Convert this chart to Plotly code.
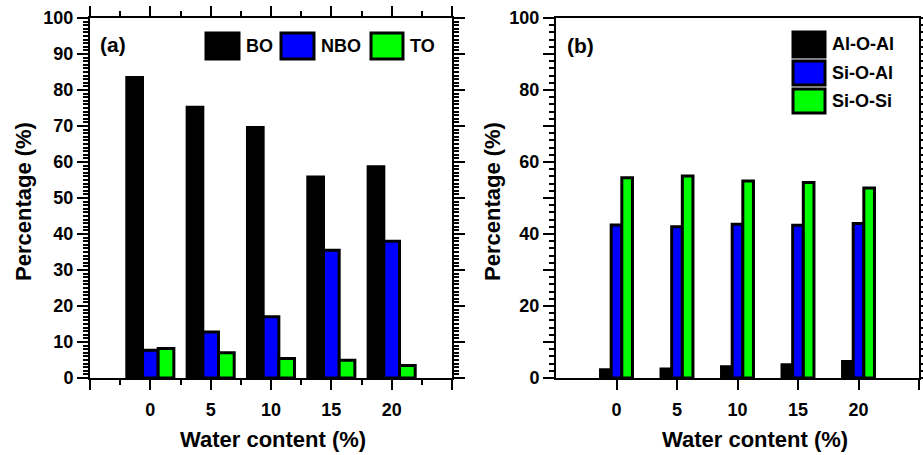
import plotly.graph_objects as go

# ---------------- data ----------------
water = [0, 5, 10, 15, 20]

names_a = ["BO", "NBO", "TO"]
bo = [83.5, 75.2, 69.6, 55.8, 58.7]
nbo = [7.7, 12.8, 17.0, 35.5, 38.0]
to = [8.2, 7.0, 5.4, 4.9, 3.5]

names_b = ["Al-O-Al", "Si-O-Al", "Si-O-Si"]
aloal = [2.3, 2.5, 3.1, 3.7, 4.6]
sioal = [42.5, 42.0, 42.7, 42.4, 42.9]
siosi = [55.6, 56.1, 54.7, 54.3, 52.8]

colors = ["#000000", "#0000FF", "#00FF00"]

xtick_vals_a = [-5, 0, 5, 10, 15, 20, 25]
xtick_text_a = ["", "0", "5", "10", "15", "20", ""]
xtick_vals_b = [0, 5, 10, 15, 20, 25]
xtick_text_b = ["0", "5", "10", "15", "20", ""]
ytick_vals_a = list(range(0, 101, 10))
ytick_vals_b = list(range(0, 101, 10))
ytick_text_b = [str(v) if v % 20 == 0 else "" for v in ytick_vals_b]

# ---------------- layout helpers ----------------
W, H = 923, 455
def px(x):
    return x / W
def py(y):
    return 1 - y / H

FONT = "Liberation Sans, Arial, sans-serif"

fig = go.Figure()

offs_a = [-1.95, -0.65, 0.65]
wid_a = 1.3
for name, vals, col, off in zip(names_a, [bo, nbo, to], colors, offs_a):
    fig.add_trace(go.Bar(x=water, y=vals, name=name, width=wid_a, offset=off,
                         marker=dict(color=col, line=dict(color="black", width=3)),
                         xaxis="x", yaxis="y", showlegend=False))

offs_b = [-1.32, -0.44, 0.44]
wid_b = 0.88
for name, vals, col, off in zip(names_b, [aloal, sioal, siosi], colors, offs_b):
    fig.add_trace(go.Bar(x=water, y=vals, name=name, width=wid_b, offset=off,
                         marker=dict(color=col, line=dict(color="black", width=3)),
                         xaxis="x2", yaxis="y2", showlegend=False))

tickfont = dict(family=FONT, size=18, color="black", weight="bold")

common = dict(showline=True, linecolor="black", linewidth=2, showgrid=False,
              zeroline=False, ticks="outside", tickcolor="black", tickwidth=2,
              tickfont=tickfont, fixedrange=True, automargin=False)

ydom = [py(378), py(18)]

fig.update_layout(
    template="none",
    width=W, height=H,
    margin=dict(l=0, r=0, t=0, b=0, autoexpand=False),
    paper_bgcolor="white", plot_bgcolor="white",
    barmode="overlay",
    xaxis=dict(domain=[px(90), px(452)], range=[-5, 25], anchor="y",
               tickmode="array", tickvals=xtick_vals_a, ticktext=xtick_text_a,
               ticklen=10, mirror="ticks", ticklabelstandoff=4,
               minor=dict(tickmode="array", tickvals=[-2.5, 2.5, 7.5, 12.5, 17.5, 22.5],
                          ticks="outside", ticklen=5, tickwidth=2, tickcolor="black"),
               **common),
    yaxis=dict(domain=ydom, range=[0, 100], anchor="x",
               tickmode="array", tickvals=ytick_vals_a, ticklen=11, mirror="ticks",
               minor=dict(dtick=1, ticks="outside", ticklen=5, tickwidth=1.5, tickcolor="black"),
               **common),
    xaxis2=dict(domain=[px(556), px(919)], range=[-5, 25], anchor="y2",
                tickmode="array", tickvals=xtick_vals_b, ticktext=xtick_text_b,
                ticklen=10, mirror=True, ticklabelstandoff=4, **common),
    yaxis2=dict(domain=ydom, range=[0, 100], anchor="x2",
                tickmode="array", tickvals=ytick_vals_b, ticktext=ytick_text_b,
                ticklen=11, mirror="ticks",
                minor=dict(dtick=2, ticks="outside", ticklen=5, tickwidth=1.5, tickcolor="black"),
                **common),
)

annots = []
shapes = []
title_font = dict(family=FONT, size=22, color="black", weight="bold")
label_font = dict(family=FONT, size=21, color="black", weight="bold")
leg_font = dict(family=FONT, size=18, color="black", weight="bold")

# axis titles
for xc in (273, 755):
    annots.append(dict(text="Water content (%)", x=px(xc), y=py(439), xref="paper", yref="paper",
                       showarrow=False, xanchor="center", yanchor="middle", font=title_font))
for xc in (23, 492):
    annots.append(dict(text="Percentage (%)", x=px(xc), y=py(202), xref="paper", yref="paper",
                       showarrow=False, xanchor="center", yanchor="middle", textangle=-90,
                       font=title_font))

# panel labels
annots.append(dict(text="(a)", x=px(98), y=py(45), xref="paper", yref="paper", showarrow=False,
                   xanchor="left", yanchor="middle", font=label_font))
annots.append(dict(text="(b)", x=px(565), y=py(46), xref="paper", yref="paper", showarrow=False,
                   xanchor="left", yanchor="middle", font=label_font))

# legend (a): horizontal
sw_a = [(206, 239, 244), (281, 314, 319), (371, 403, 408)]
for (x0, x1, xt), name, col in zip(sw_a, names_a, colors):
    shapes.append(dict(type="rect", xref="paper", yref="paper", x0=px(x0), x1=px(x1),
                       y0=py(59), y1=py(33), fillcolor=col, line=dict(color="black", width=3)))
    annots.append(dict(text=name, x=px(xt), y=py(46), xref="paper", yref="paper", showarrow=False,
                       xanchor="left", yanchor="middle", font=leg_font))

# legend (b): vertical
sw_b = [(32, 57), (61, 85), (89, 113)]
for (y0, y1), name, col in zip(sw_b, names_b, colors):
    shapes.append(dict(type="rect", xref="paper", yref="paper", x0=px(793), x1=px(825),
                       y0=py(y1), y1=py(y0), fillcolor=col, line=dict(color="black", width=3)))
    annots.append(dict(text=name, x=px(830), y=py((y0 + y1) / 2), xref="paper", yref="paper",
                       showarrow=False, xanchor="left", yanchor="middle", font=leg_font))

fig.update_layout(annotations=annots, shapes=shapes)

fig.write_html("out.html", config={"displayModeBar": False})
